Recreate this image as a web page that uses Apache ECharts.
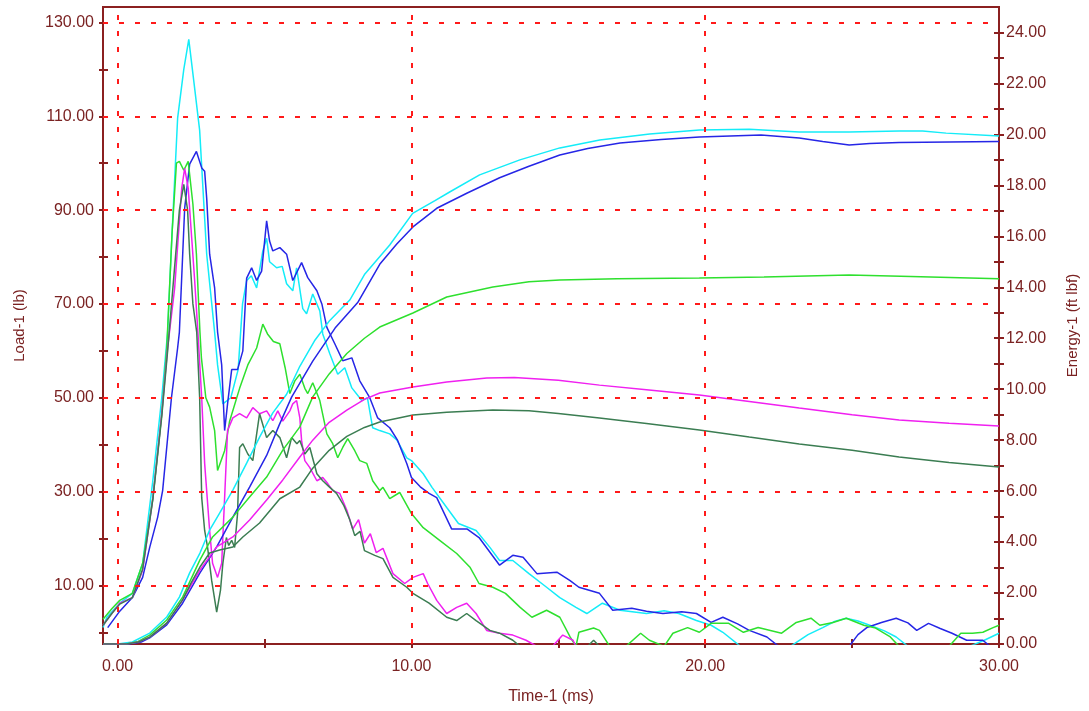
<!DOCTYPE html>
<html>
<head>
<meta charset="utf-8">
<title>Load and Energy vs Time</title>
<script src="https://cdn.jsdelivr.net/npm/echarts@6/dist/echarts.min.js"></script>
<style>
  html, body { margin: 0; padding: 0; background: #ffffff; }
  #chart { width: 1089px; height: 711px; }
</style>
</head>
<body>
<div id="chart"></div>
<script>
// ---- axis ticks and labels ----
const timeLabels = [0, 10, 20, 30];
const timeTicks = [0, 5, 10, 15, 20, 25, 30];
const loadLabels = [10, 30, 50, 70, 90, 110, 130];
const loadTicks = [0, 10, 20, 30, 40, 50, 60, 70, 80, 90, 100, 110, 120, 130];
const energyLabels = [0, 2, 4, 6, 8, 10, 12, 14, 16, 18, 20, 22, 24];
const energyTicks = [0, 1, 2, 3, 4, 5, 6, 7, 8, 9, 10, 11, 12, 13, 14, 15, 16, 17, 18, 19, 20, 21, 22, 23, 24];
const loadGridLines = [10, 30, 50, 70, 90, 110, 130];
const timeGridLines = [0, 10, 20];

// ---- Load-1 (lb) traces, [time ms, load lb] ----
const loadCyan = [[-0.5,1.0],[-0.37,3.2],[0.07,6.2],[0.5,8.3],[0.85,14.7],[1.19,32],[1.5,50],[1.7,64],[1.85,85],[2.04,109.6],[2.25,120],[2.42,126.4],[2.6,117],[2.79,107],[3.03,80.6],[3.3,64],[3.4,57],[3.58,48.7],[3.85,50],[4.1,56],[4.25,70],[4.39,75],[4.55,76],[4.73,73.4],[4.94,81.3],[5.07,84],[5.17,79],[5.41,77.7],[5.6,78],[5.75,74.3],[5.96,72.8],[6.09,77.7],[6.3,69],[6.43,67.9],[6.64,72.1],[6.88,68.5],[6.98,63.6],[7.22,59.4],[7.49,55],[7.73,56.4],[7.97,52.1],[8.31,49.4],[8.5,50],[8.68,43.6],[8.92,43],[9.26,42.3],[9.5,41],[9.84,37.2],[10.0,36.6],[10.4,33.8],[10.7,30.9],[11.2,26.6],[11.6,23.2],[12.2,21.7],[12.67,18.1],[13,15.3],[13.45,15.3],[14,12.5],[14.6,9.6],[15.05,7.4],[15.6,5.3],[15.97,4],[16.5,6.2],[17.1,4.7],[18,4],[18.6,4.6],[19.1,4],[19.7,2.5],[20.2,1.5],[20.6,0],[21.2,-3],[22.9,-3],[23.5,-0.5],[24,1],[24.4,2.3],[24.8,3],[25.2,2.4],[25.6,1.5],[26.1,0.3],[26.5,-1],[26.9,-3],[29.0,-3],[29.5,-1.7],[30,-0.2]];
const loadBlue = [[-0.34,1],[0.07,4.5],[0.5,7.4],[0.85,11.7],[1.09,18.1],[1.36,24.5],[1.53,30.2],[1.83,50],[2.04,60.6],[2.1,64],[2.28,90.4],[2.45,99.8],[2.68,102.5],[2.86,99],[2.96,98.3],[3.03,92.5],[3.13,80.6],[3.3,73.4],[3.4,64],[3.54,57],[3.64,43],[3.74,48.7],[3.88,56],[4.08,56],[4.26,60],[4.39,75.5],[4.56,77.7],[4.73,75],[4.9,77],[5.07,87.7],[5.17,83.4],[5.28,81.3],[5.52,82],[5.75,80.6],[5.96,75],[6.26,78.8],[6.47,75.6],[6.78,72.8],[6.95,70],[7.12,65],[7.39,61.5],[7.66,57.9],[7.97,58.5],[8.24,53.6],[8.58,50],[8.85,45.7],[9.26,43.6],[9.53,40.9],[9.84,36],[10,33],[10.3,31],[10.6,29.6],[10.86,28.7],[11.37,22],[11.9,22],[12.3,20.2],[13,14.3],[13.45,16.4],[13.8,16],[14.27,12.5],[14.95,12.8],[15.4,11],[15.7,9.6],[16.4,8.3],[16.85,4.7],[17.5,5.1],[18.0,4.5],[18.56,4],[19.2,4.4],[19.7,4],[20.2,2.1],[20.6,3.2],[21.1,1.8],[21.5,0.4],[22.1,-1],[22.5,-3],[24.9,-3],[25.2,-0.5],[25.5,1],[26.0,2.1],[26.5,3],[26.9,2],[27.2,0.4],[27.6,1.9],[28.0,0.8],[28.4,-0.2],[28.9,-1.7],[29.45,-1.7],[29.7,-3],[30,-3]];
const loadGreen = [[-0.5,2.8],[-0.2,5],[0.07,6.8],[0.5,8.3],[0.85,14.7],[1.2,28.7],[1.5,46.6],[1.67,60.6],[1.85,85],[2.0,100],[2.1,100.4],[2.25,98.5],[2.4,100.4],[2.56,91.3],[2.68,80.6],[2.8,64],[2.85,58.5],[3.0,50],[3.13,48],[3.3,43],[3.4,34.5],[3.64,38.7],[3.81,45],[4.15,52],[4.43,57],[4.73,60.6],[4.94,65.7],[5.1,63.6],[5.3,62],[5.52,61.5],[5.7,56.4],[5.86,50.9],[6.03,53.6],[6.2,55],[6.37,52],[6.47,50.9],[6.64,53.2],[6.88,49.4],[7.12,42.3],[7.32,40.2],[7.49,37.2],[7.66,39.4],[7.83,41.3],[8.07,38.7],[8.24,36.6],[8.48,36],[8.68,32.3],[8.92,30.2],[9.03,30.9],[9.26,28.5],[9.6,29.8],[10,25.3],[10.4,22.3],[10.96,19.6],[11.54,16.8],[12,13.8],[12.3,10.4],[12.77,9.6],[13.2,8.3],[13.7,5.3],[14.1,3.2],[14.6,4.7],[15.05,3.2],[15.4,-1],[15.6,-3],[15.7,0],[16.2,0.9],[16.4,0.4],[16.75,-3],[17.3,-3],[17.8,-0.2],[18.1,-1.7],[18.6,-3],[18.9,-0.2],[19.4,1],[19.8,0],[20.2,1.9],[20.8,1.9],[21.3,0],[21.8,1],[22.6,-0.2],[23.1,2.1],[23.6,3],[23.9,1.5],[24.35,2.1],[24.8,3],[25.4,1.5],[25.8,0.9],[26.3,-1],[26.6,-3],[28.3,-3],[28.7,-0.2],[29.1,-0.2],[29.45,0],[29.8,1],[30,1.5]];
const loadMagenta = [[-0.5,1.5],[-0.2,4],[0.07,6.2],[0.5,7.4],[0.85,13.2],[1.2,28.7],[1.5,46.6],[1.7,60.6],[1.94,73.4],[2.18,94.7],[2.28,98.9],[2.4,94.7],[2.52,84],[2.62,75],[2.73,64],[2.86,50],[2.96,36],[3.13,21.7],[3.23,14.7],[3.4,11.7],[3.54,14.7],[3.64,28.7],[3.74,43],[3.92,45.7],[4.15,46.6],[4.39,45.7],[4.6,47.9],[4.83,46.6],[5.07,47.2],[5.28,45.1],[5.45,47.2],[5.62,45],[5.86,47.2],[5.96,48.7],[6.09,49.4],[6.2,45.7],[6.26,40.9],[6.37,36.6],[6.54,35.1],[6.78,32.3],[6.98,33],[7.15,31.7],[7.32,30.2],[7.56,29.6],[7.8,26],[8.0,22],[8.2,24],[8.4,19],[8.6,21],[8.8,17],[9.03,17.9],[9.37,12.5],[9.77,10.4],[10.05,11.7],[10.4,12.5],[10.55,10.4],[10.86,6.8],[11.2,4],[11.54,5.3],[11.88,6.2],[12.2,4],[12.56,0.4],[13,-0.2],[13.45,-0.6],[13.9,-1.7],[14.27,-3],[14.8,-3],[15.15,-0.6],[15.5,-1.7],[15.6,-3],[30,-3]];
const loadDarkGreen = [[-0.5,1.5],[-0.2,4],[0.07,6],[0.5,7.4],[0.85,13.5],[1.2,28.5],[1.5,46],[1.7,60],[1.94,78],[2.1,90],[2.25,95.5],[2.38,90],[2.45,80.6],[2.56,70],[2.69,64],[2.79,50],[2.86,28.7],[2.96,21.7],[3.06,18.1],[3.2,11],[3.37,4.3],[3.5,9],[3.58,14.7],[3.7,20.2],[3.78,18.5],[3.88,19.6],[3.98,18.1],[4.08,25.3],[4.15,39.4],[4.26,40.2],[4.43,38],[4.6,36.6],[4.83,46.6],[5.07,41.5],[5.28,43],[5.52,41.5],[5.75,37.2],[5.92,41.5],[6.1,40.2],[6.2,40.9],[6.37,38],[6.54,39.4],[6.78,33.8],[6.98,32.3],[7.22,30.9],[7.45,29.6],[7.7,27],[7.9,24],[8.07,20.6],[8.25,21.5],[8.4,17.4],[8.75,16.4],[9.03,15.7],[9.37,11.7],[9.84,9.6],[10.05,8.3],[10.6,6.2],[11.2,3.2],[11.54,2.5],[11.88,4],[12.2,2.5],[12.67,0.4],[13,-0.2],[13.45,-1.7],[13.7,-3],[16.0,-3],[16.2,-1.7],[16.4,-3],[30,-3]];

// ---- Energy-1 (ft lbf) traces, [time ms, energy ft lbf] ----
const energyCyan = [[-0.5,0],[0,0],[0.5,0.08],[1.09,0.43],[1.67,1.06],[2.1,1.84],[2.45,2.79],[2.8,3.57],[3.13,4.47],[3.47,5.14],[3.92,6.04],[4.39,7.1],[4.83,8.12],[5.28,9.07],[5.75,9.8],[6.2,10.9],[6.7,11.9],[7.22,12.7],[7.9,13.5],[8.4,14.5],[9.26,15.66],[10.04,16.9],[10.8,17.4],[11.3,17.74],[12.32,18.41],[13.69,19.0],[15.05,19.47],[16.41,19.78],[18.11,20.02],[19.8,20.17],[21.5,20.2],[23.2,20.09],[24.9,20.09],[26.6,20.13],[27.4,20.13],[28.2,20.05],[30,19.94]];
const energyBlue = [[-0.5,0],[0.4,0],[0.8,0.08],[1.09,0.24],[1.67,0.75],[2.21,1.6],[2.8,2.79],[3.37,3.81],[3.92,4.98],[4.49,6.16],[5.07,7.4],[5.5,8.6],[5.92,9.69],[6.64,11.1],[7.4,12.4],[8.17,13.4],[8.92,14.9],[9.5,15.7],[10.05,16.37],[10.86,17.1],[11.9,17.7],[13,18.3],[14,18.75],[15.05,19.19],[16,19.45],[17.1,19.66],[18.5,19.8],[19.8,19.9],[21.9,19.98],[23.2,19.86],[24.0,19.72],[24.9,19.58],[25.6,19.64],[26.6,19.68],[30,19.72]];
const energyGreen = [[-0.5,0],[0.3,0],[0.7,0.1],[1.09,0.35],[1.67,0.94],[2.21,1.84],[2.8,3.3],[3.23,4.2],[3.92,4.98],[4.49,5.77],[5.07,6.55],[5.62,7.61],[6.2,8.52],[6.64,9.7],[7.2,10.6],[7.8,11.4],[8.4,12.0],[8.92,12.44],[10.05,12.99],[11.2,13.62],[12.77,14.01],[14,14.22],[15.05,14.29],[17,14.33],[19.8,14.36],[22,14.4],[24.9,14.48],[27,14.42],[30,14.33]];
const energyMagenta = [[-0.5,0],[0.3,0],[0.7,0.08],[1.09,0.27],[1.67,0.82],[2.21,1.73],[2.8,2.9],[3.37,3.81],[3.92,4.2],[4.49,4.87],[5.07,5.65],[5.62,6.44],[6.2,7.34],[6.64,8.0],[7.2,8.7],[7.8,9.18],[8.4,9.6],[8.92,9.85],[10.05,10.09],[11.2,10.28],[12.56,10.44],[13.5,10.46],[15,10.35],[16.4,10.16],[18,9.98],[19.8,9.77],[21.5,9.52],[23.2,9.26],[25,9.0],[26.6,8.79],[28.3,8.66],[30,8.56]];
const energyDarkGreen = [[-0.5,0],[0.3,0],[0.7,0.08],[1.09,0.27],[1.67,0.82],[2.21,1.73],[2.5,2.4],[2.8,3.02],[3.13,3.57],[3.47,3.69],[3.92,3.81],[4.26,4.2],[4.83,4.75],[5.52,5.7],[6.2,6.16],[6.64,6.9],[7.2,7.6],[7.8,8.15],[8.4,8.5],[8.92,8.71],[10.05,8.99],[11.2,9.1],[12.77,9.18],[14,9.15],[15,9.05],[16.4,8.87],[18,8.65],[19.8,8.4],[21.5,8.12],[23.2,7.85],[25,7.6],[26.6,7.34],[28.3,7.12],[30,6.95]];

const AXIS_COLOR = '#8b2020';
const LABEL_COLOR = '#7a2222';
const FONT = '"Liberation Sans", Arial, sans-serif';
const fmt = v => Number(v).toFixed(2);

const COLORS = {
  cyan: '#14ecf8',
  blue: '#2626e6',
  green: '#2ee02e',
  magenta: '#f020f0',
  darkGreen: '#3b7d52'
};

function trace(name, data, color, yAxisIndex) {
  return {
    name: name,
    type: 'line',
    xAxisIndex: 0,
    yAxisIndex: yAxisIndex,
    data: data,
    showSymbol: false,
    symbol: 'none',
    clip: true,
    z: 3,
    lineStyle: { color: color, width: 1.5 },
    emphasis: { disabled: true }
  };
}

function valueAxisBase(min, max) {
  return { type: 'value', min: min, max: max, splitLine: { show: false } };
}

const chart = echarts.init(document.getElementById('chart'), null, { renderer: 'canvas' });

chart.setOption({
  animation: false,
  backgroundColor: '#ffffff',
  textStyle: { fontFamily: FONT },
  grid: {
    left: 103, right: 90, top: 7, bottom: 67,
    show: true,
    borderColor: AXIS_COLOR,
    borderWidth: 2,
    outerBoundsMode: 'none',
    containLabel: false
  },
  xAxis: [
    Object.assign(valueAxisBase(-0.5, 30), {
      position: 'bottom',
      name: 'Time-1 (ms)',
      nameLocation: 'middle',
      nameGap: 45,
      nameTextStyle: { color: LABEL_COLOR, fontSize: 16, fontFamily: FONT },
      axisLine: { show: true, onZero: false, lineStyle: { color: AXIS_COLOR, width: 2 } },
      axisTick: { show: true, inside: false, length: 4, customValues: timeTicks, lineStyle: { color: AXIS_COLOR, width: 2 } },
      axisLabel: { customValues: timeLabels, formatter: fmt, color: LABEL_COLOR, fontSize: 16, fontFamily: FONT, margin: 15 }
    }),
    Object.assign(valueAxisBase(-0.5, 30), {
      position: 'bottom',
      axisLine: { show: false, onZero: false },
      axisTick: { show: true, inside: true, length: 5, customValues: timeTicks, lineStyle: { color: AXIS_COLOR, width: 2 } },
      axisLabel: { show: false }
    })
  ],
  yAxis: [
    Object.assign(valueAxisBase(-2.5, 133.3), {
      position: 'left',
      name: 'Load-1 (lb)',
      nameLocation: 'middle',
      nameGap: 76,
      nameTextStyle: { color: LABEL_COLOR, fontSize: 15, fontFamily: FONT },
      axisLine: { show: true, onZero: false, lineStyle: { color: AXIS_COLOR, width: 2 } },
      axisTick: { show: true, inside: false, length: 4, customValues: loadTicks, lineStyle: { color: AXIS_COLOR, width: 2 } },
      axisLabel: { customValues: loadLabels, formatter: fmt, color: LABEL_COLOR, fontSize: 16, fontFamily: FONT, margin: 9 }
    }),
    Object.assign(valueAxisBase(0, 25), {
      position: 'right',
      name: 'Energy-1 (ft lbf)',
      nameLocation: 'middle',
      nameRotate: 90,
      nameGap: 66,
      nameTextStyle: { color: LABEL_COLOR, fontSize: 15, fontFamily: FONT },
      axisLine: { show: true, onZero: false, lineStyle: { color: AXIS_COLOR, width: 2 } },
      axisTick: { show: true, inside: false, length: 5, customValues: energyTicks, lineStyle: { color: AXIS_COLOR, width: 2 } },
      axisLabel: { customValues: energyLabels, formatter: fmt, color: LABEL_COLOR, fontSize: 16, fontFamily: FONT, margin: 7 }
    }),
    Object.assign(valueAxisBase(-2.5, 133.3), {
      position: 'left',
      axisLine: { show: false, onZero: false },
      axisTick: { show: true, inside: true, length: 5, customValues: loadTicks, lineStyle: { color: AXIS_COLOR, width: 2 } },
      axisLabel: { show: false }
    }),
    Object.assign(valueAxisBase(0, 25), {
      position: 'right',
      axisLine: { show: false, onZero: false },
      axisTick: { show: true, inside: true, length: 5, customValues: energyTicks, lineStyle: { color: AXIS_COLOR, width: 2 } },
      axisLabel: { show: false }
    })
  ],
  series: [
    {
      name: 'grid',
      type: 'line',
      xAxisIndex: 0,
      yAxisIndex: 0,
      data: [],
      z: 1,
      silent: true,
      markLine: {
        silent: true,
        symbol: 'none',
        animation: false,
        label: { show: false },
        lineStyle: { color: '#ff1a1a', type: [5, 11], width: 2 },
        data: loadGridLines.map(v => ({ yAxis: v })).concat(timeGridLines.map(v => ({ xAxis: v })))
      }
    },
    trace('Load cyan', loadCyan, COLORS.cyan, 0),
    trace('Load blue', loadBlue, COLORS.blue, 0),
    trace('Load green', loadGreen, COLORS.green, 0),
    trace('Load magenta', loadMagenta, COLORS.magenta, 0),
    trace('Load dark green', loadDarkGreen, COLORS.darkGreen, 0),
    trace('Energy cyan', energyCyan, COLORS.cyan, 1),
    trace('Energy blue', energyBlue, COLORS.blue, 1),
    trace('Energy green', energyGreen, COLORS.green, 1),
    trace('Energy magenta', energyMagenta, COLORS.magenta, 1),
    trace('Energy dark green', energyDarkGreen, COLORS.darkGreen, 1)
  ]
});
</script>
</body>
</html>
